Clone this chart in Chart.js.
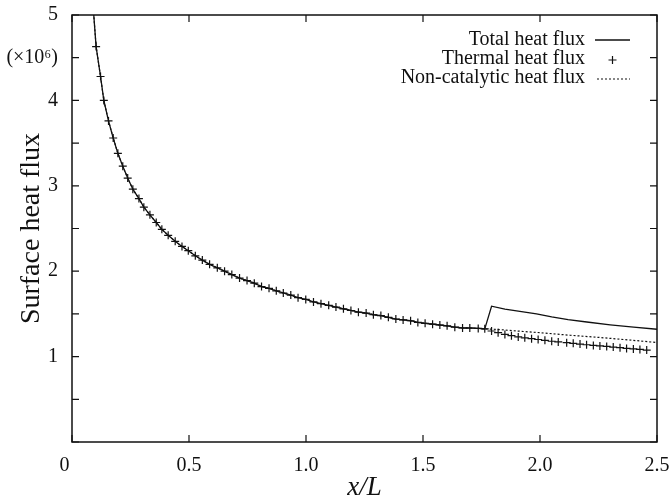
<!DOCTYPE html>
<html>
<head>
<meta charset="utf-8">
<script src="https://cdn.jsdelivr.net/npm/chart.js@4"></script>
<style>
  html, body { margin:0; padding:0; background:#fff; }
  #wrap { width:671px; height:499px; }
</style>
</head>
<body>
<div id="wrap"><canvas id="c" width="671" height="499"></canvas></div>
<script>
// line start above the first marker (clipped at the top)
const xLead = [0.085, 0.093];
const qLead = [5.3, 5.0];

// shared part of all three curves, up to the jump
const xMarks = [0.103, 0.122, 0.136, 0.156, 0.176, 0.196, 0.217, 0.238, 0.260, 0.286,
  0.307, 0.333, 0.360, 0.384, 0.411, 0.441, 0.470, 0.497, 0.527, 0.557,
  0.588, 0.621, 0.652, 0.683, 0.716, 0.748, 0.779, 0.810, 0.842, 0.873,
  0.903, 0.935, 0.966, 0.999, 1.032, 1.064, 1.097, 1.128, 1.160, 1.192,
  1.224, 1.257, 1.288, 1.320, 1.352, 1.384, 1.415, 1.447, 1.478, 1.509,
  1.541, 1.572, 1.603, 1.636, 1.669, 1.700, 1.736, 1.764];
const qMarks = [4.63, 4.28, 4.00, 3.76, 3.56, 3.38, 3.23, 3.09, 2.96, 2.85,
  2.75, 2.66, 2.57, 2.49, 2.42, 2.35, 2.29, 2.24, 2.18, 2.13,
  2.08, 2.04, 2.00, 1.96, 1.92, 1.89, 1.86, 1.82, 1.80, 1.77,
  1.745, 1.72, 1.69, 1.67, 1.64, 1.62, 1.60, 1.58, 1.56, 1.54,
  1.52, 1.51, 1.49, 1.48, 1.46, 1.44, 1.43, 1.42, 1.40, 1.39,
  1.38, 1.37, 1.36, 1.345, 1.335, 1.335, 1.33, 1.325];

// after the jump
const xTotalTail = [1.793, 1.85, 1.914, 1.985, 2.05, 2.12, 2.2, 2.3, 2.4, 2.5];
const qTotalTail = [1.59, 1.555, 1.53, 1.50, 1.465, 1.434, 1.405, 1.372, 1.345, 1.32];

const xThermalTail = [1.793, 1.821, 1.85, 1.878, 1.907, 1.935, 1.964, 1.992, 2.021, 2.05,
  2.078, 2.114, 2.142, 2.171, 2.199, 2.228, 2.256, 2.285, 2.313, 2.342,
  2.370, 2.399, 2.427, 2.456];
const qThermalTail = [1.30, 1.28, 1.26, 1.245, 1.23, 1.22, 1.21, 1.20, 1.19, 1.18,
  1.172, 1.163, 1.155, 1.147, 1.139, 1.131, 1.125, 1.119, 1.111, 1.104,
  1.096, 1.090, 1.084, 1.076];

const xNonCatTail = [1.82, 1.9, 2.0, 2.128, 2.25, 2.38, 2.5];
const qNonCatTail = [1.318, 1.30, 1.28, 1.25, 1.225, 1.195, 1.165];

const xTicks = [0, 0.5, 1.0, 1.5, 2.0, 2.5];
const yTickLabels = {1: '1', 2: '2', 3: '3', 4: '4', 4.5: '(\u00d710\u2076)', 5: '5'};
const legendLabels = ['Total heat flux', 'Thermal heat flux', 'Non-catalytic heat flux'];

const pts = (xs, ys) => xs.map((x, i) => ({ x, y: ys[i] }));
const SERIF = '"Liberation Serif", "Times New Roman", serif';
const INK = '#111';

// frame with inward ticks on all four sides
const framePlugin = {
  id: 'frame',
  afterDraw(chart){
    const { ctx, chartArea: a, scales } = chart;
    ctx.save();
    ctx.strokeStyle = INK;
    ctx.lineWidth = 1.5;
    ctx.strokeRect(a.left, a.top, a.right - a.left, a.bottom - a.top);
    ctx.lineWidth = 1.2;
    ctx.beginPath();
    scales.x.ticks.forEach(t => {
      const px = scales.x.getPixelForValue(t.value);
      ctx.moveTo(px, a.bottom); ctx.lineTo(px, a.bottom - 7);
      ctx.moveTo(px, a.top);    ctx.lineTo(px, a.top + 7);
    });
    scales.y.ticks.forEach(t => {
      const py = scales.y.getPixelForValue(t.value);
      ctx.moveTo(a.left, py);  ctx.lineTo(a.left + 7, py);
      ctx.moveTo(a.right, py); ctx.lineTo(a.right - 7, py);
    });
    ctx.stroke();
    ctx.restore();
  }
};

// legend: text right-aligned, sample to the right
const keyPlugin = {
  id: 'key',
  afterDraw(chart){
    const { ctx } = chart;
    const textRight = 585, s0 = 595, s1 = 630;
    const rows = [45, 64, 83];
    ctx.save();
    ctx.font = '20px ' + SERIF;
    ctx.fillStyle = INK;
    ctx.textAlign = 'right';
    ctx.textBaseline = 'alphabetic';
    legendLabels.forEach((l, i) => ctx.fillText(l, textRight, rows[i]));
    ctx.strokeStyle = INK;
    // total: solid
    ctx.lineWidth = 1.3;
    ctx.beginPath(); ctx.moveTo(s0, rows[0] - 5); ctx.lineTo(s1, rows[0] - 5); ctx.stroke();
    // thermal: plus
    const cx = (s0 + s1) / 2, cy = rows[1] - 4;
    ctx.lineWidth = 1.2;
    ctx.beginPath(); ctx.moveTo(cx - 4, cy); ctx.lineTo(cx + 4, cy);
    ctx.moveTo(cx, cy - 4); ctx.lineTo(cx, cy + 4); ctx.stroke();
    // non-catalytic: dotted
    ctx.setLineDash([2, 2]);
    ctx.beginPath(); ctx.moveTo(s0 + 2, rows[2] - 4); ctx.lineTo(s1, rows[2] - 4); ctx.stroke();
    ctx.restore();
  }
};

new Chart(document.getElementById('c').getContext('2d'), {
  type: 'line',
  data: {
    datasets: [
      {
        label: legendLabels[2],
        data: pts(xLead.concat(xMarks, xNonCatTail), qLead.concat(qMarks, qNonCatTail)),
        borderColor: INK, borderWidth: 1.2, borderDash: [2, 2],
        pointRadius: 0, tension: 0
      },
      {
        label: legendLabels[0],
        data: pts(xLead.concat(xMarks, xTotalTail), qLead.concat(qMarks, qTotalTail)),
        borderColor: INK, borderWidth: 1.3,
        pointRadius: 0, tension: 0
      },
      {
        label: legendLabels[1],
        data: pts(xMarks.concat(xThermalTail), qMarks.concat(qThermalTail)),
        showLine: false,
        pointStyle: 'cross', pointRadius: 4, pointBorderWidth: 1.2,
        borderColor: INK, backgroundColor: INK
      }
    ]
  },
  options: {
    responsive: false,
    animation: false,
    layout: { padding: { top: 15, right: 14, left: 0, bottom: 0 } },
    plugins: { legend: { display: false }, tooltip: { enabled: false } },
    scales: {
      x: {
        type: 'linear', min: 0, max: 2.5,
        grid: { display: false }, border: { display: false },
        afterBuildTicks: s => { s.ticks = xTicks.map(v => ({ value: v })); },
        afterFit: s => { s.height = 57; s.paddingLeft = 0; s.paddingRight = 0; },
        ticks: {
          padding: 4, color: INK, maxRotation: 0,
          font: { family: SERIF, size: 20 },
          callback: v => v === 0 ? '0   ' : v.toFixed(1)
        },
        title: {
          display: true, text: 'x/L', color: INK,
          font: { family: SERIF, size: 27, style: 'italic', lineHeight: 0.8 },
          padding: { top: 0, bottom: 0 }
        }
      },
      y: {
        type: 'linear', min: 0, max: 5,
        grid: { display: false }, border: { display: false },
        afterFit: s => { s.width = 72; s.paddingTop = 0; s.paddingBottom = 0; },
        ticks: {
          stepSize: 0.5, padding: 6, color: INK,
          font: { family: SERIF, size: 20 },
          callback: v => yTickLabels[v] || ''
        },
        title: {
          display: true, text: 'Surface heat flux', color: INK,
          font: { family: SERIF, size: 28, lineHeight: 1 },
          padding: { top: 18, bottom: 0 }
        }
      }
    }
  },
  plugins: [framePlugin, keyPlugin]
});
</script>
</body>
</html>
